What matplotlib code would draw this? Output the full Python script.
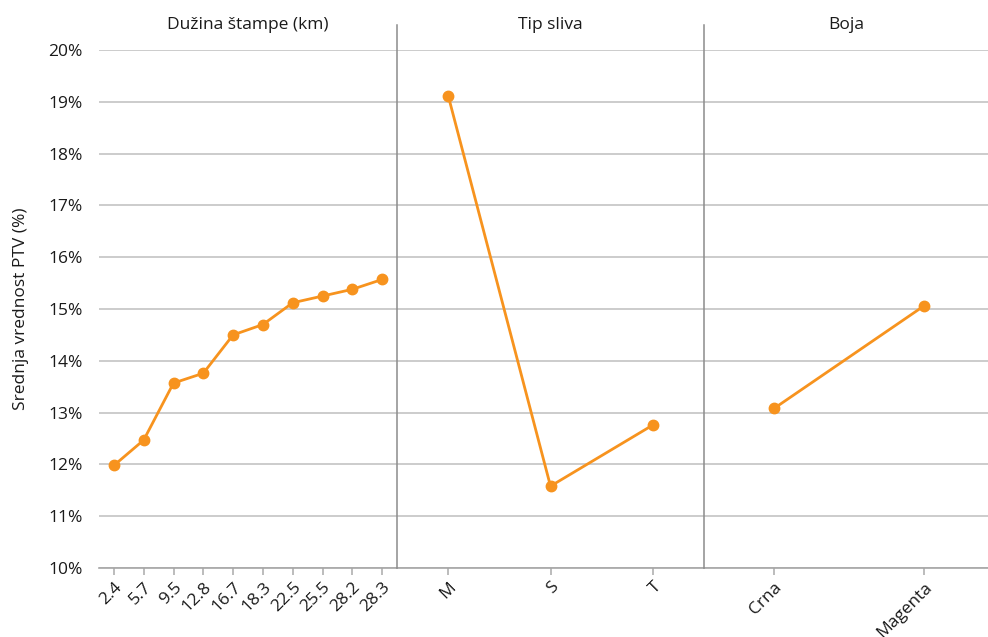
import matplotlib
matplotlib.use("Agg")
import matplotlib.pyplot as plt
from matplotlib.lines import Line2D

plt.rcParams['font.family'] = ['Open Sans', 'DejaVu Sans']

# Mean PTV values per factor level
duzina_labels = ["2.4", "5.7", "9.5", "12.8", "16.7", "18.3", "22.5", "25.5", "28.2", "28.3"]
duzina_values = [11.98, 12.47, 13.57, 13.76, 14.50, 14.70, 15.12, 15.25, 15.38, 15.57]

sliv_labels = ["M", "S", "T"]
sliv_values = [19.12, 11.58, 12.76]

boja_labels = ["Crna", "Magenta"]
boja_values = [13.08, 15.06]

panel_titles = ["Dužina štampe (km)", "Tip sliva", "Boja"]
y_ticks = [10, 11, 12, 13, 14, 15, 16, 17, 18, 19, 20]

ORANGE = "#F7931E"
GRID = "#c4c4c4"
SEP = "#8c8c8c"
TXT = "#1a1a1a"
FS = 12.5

W, H = 988, 637
fig = plt.figure(figsize=(W / 100, H / 100), dpi=100)

y_top, y_bot = 50, 568
panels = [
    (99, 397, duzina_labels, duzina_values, (-0.5, len(duzina_labels) - 0.5)),
    (397, 704, sliv_labels, sliv_values, (-0.5, len(sliv_labels) - 0.5)),
    (704, 988, boja_labels, boja_values, (-0.467, 1.427)),
]

for i, (x0, x1, labels, values, xlim) in enumerate(panels):
    ax = fig.add_axes([x0 / W, 1 - y_bot / H, (x1 - x0) / W, (y_bot - y_top) / H])
    xs = list(range(len(labels)))
    ax.plot(xs, values, color=ORANGE, lw=2, marker="o", ms=7.5, zorder=3)
    ax.set_xlim(*xlim)
    ax.set_ylim(10, 20)
    ax.set_yticks(y_ticks)
    ax.yaxis.grid(True, color=GRID, lw=1.2)
    ax.set_axisbelow(True)
    for s in ["top", "right", "left"]:
        ax.spines[s].set_visible(False)
    ax.spines["bottom"].set_color("#a6a6a6")
    ax.spines["bottom"].set_linewidth(1.2)
    ax.set_xticks(xs)
    ax.set_xticklabels(labels, rotation=45, ha="right", rotation_mode="anchor",
                       fontsize=FS, color=TXT)
    ax.tick_params(axis="x", length=5, color="#b0b0b0", width=1.2, pad=3)
    if i == 0:
        ax.set_yticklabels([f"{t}%" for t in y_ticks], fontsize=FS, color=TXT)
        ax.tick_params(axis="y", length=0, pad=12)
        ax.set_ylabel("Srednja vrednost PTV (%)", fontsize=FS, color=TXT, labelpad=14)
    else:
        ax.tick_params(axis="y", left=False, labelleft=False)
    fig.text(((x0 + x1) / 2) / W, 1 - 25 / H, panel_titles[i], ha="center", va="center",
             fontsize=FS, color=TXT)

# vertical separators between panels
for xs_ in (397, 704):
    fig.add_artist(Line2D([xs_ / W, xs_ / W], [1 - 25 / H, 1 - y_bot / H],
                          color=SEP, lw=1.1, transform=fig.transFigure))

fig.savefig("out.png", dpi=100, facecolor="white")
